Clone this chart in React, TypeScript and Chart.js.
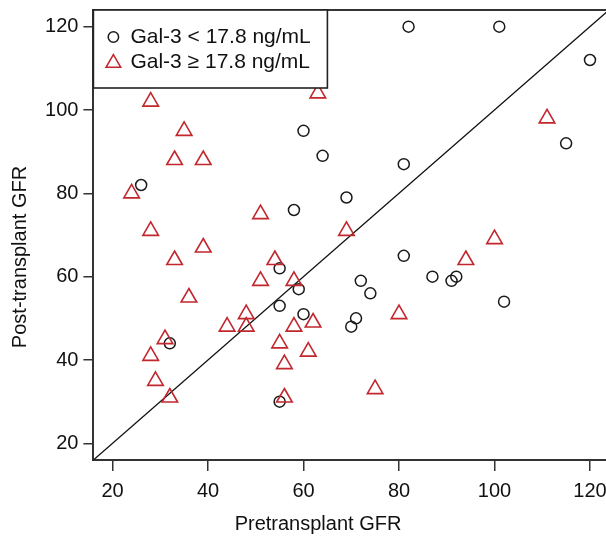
import React, { useEffect, useRef } from "react";
import { Chart, registerables } from "chart.js";

Chart.register(...registerables);

// ---- data ----
const xTicks = [20, 40, 60, 80, 100, 120];
const yTicks = [20, 40, 60, 80, 100, 120];
const xRange = [16, 123.35];
const yRange = [16, 124];

const lowPre = [26, 32, 55, 55, 55, 58, 59, 60, 60, 64, 69, 70, 71, 72, 74, 81, 81, 82, 87, 91, 92, 101, 102, 115, 120];
const lowPost = [82, 44, 30, 53, 62, 76, 57, 95, 51, 89, 79, 48, 50, 59, 56, 87, 65, 120, 60, 59, 60, 120, 54, 92, 112];

const highPre = [24, 28, 28, 28, 29, 31, 32, 33, 33, 35, 36, 39, 39, 44, 48, 48, 51, 51, 54, 55, 56, 56, 58, 58, 61, 62, 63, 69, 75, 80, 94, 100, 111];
const highPost = [80, 102, 71, 41, 35, 45, 31, 88, 64, 95, 55, 88, 67, 48, 51, 48, 75, 59, 64, 44, 39, 31, 59, 48, 42, 49, 104, 71, 33, 51, 64, 69, 98];

const legendLabels = ["Gal-3 < 17.8 ng/mL", "Gal-3 \u2265 17.8 ng/mL"];
const xTitle = "Pretransplant GFR";
const yTitle = "Post-transplant GFR";

const FONT = "'Liberation Sans', Arial, Helvetica, sans-serif";
const RED = "#c1272d";
const DARK = "#1a1a1a";

function drawTri(ctx: CanvasRenderingContext2D, x: number, y: number, r: number) {
  const s = Math.sin((2 * Math.PI) / 3) * r;
  ctx.beginPath();
  ctx.moveTo(x, y - r);
  ctx.lineTo(x + s, y + r / 2);
  ctx.lineTo(x - s, y + r / 2);
  ctx.closePath();
  ctx.stroke();
}

const decorPlugin = {
  id: "decor",
  afterDatasetsDraw(chart: any) {
    const { ctx, chartArea } = chart;
    const { left, top, right } = chartArea;
    ctx.save();
    // top border
    ctx.strokeStyle = "#333";
    ctx.lineWidth = 2;
    ctx.beginPath();
    ctx.moveTo(left, top);
    ctx.lineTo(right + 2, top);
    ctx.stroke();

    // legend box
    const w = 234, h = 78;
    ctx.fillStyle = "#fff";
    ctx.fillRect(left, top, w, h);
    ctx.strokeStyle = "#222";
    ctx.lineWidth = 1.6;
    ctx.strokeRect(left, top, w, h);

    // markers
    ctx.lineWidth = 1.5;
    ctx.strokeStyle = DARK;
    ctx.beginPath();
    ctx.arc(left + 20, top + 27, 5.2, 0, Math.PI * 2);
    ctx.stroke();
    ctx.strokeStyle = RED;
    drawTri(ctx, left + 20, top + 53, 8.5);

    ctx.fillStyle = "#111";
    ctx.font = `21px ${FONT}`;
    ctx.textAlign = "left";
    ctx.textBaseline = "middle";
    ctx.fillText(legendLabels[0], left + 37, top + 27);
    ctx.fillText(legendLabels[1], left + 37, top + 52);

    // axis titles
    ctx.font = `20px ${FONT}`;
    ctx.textAlign = "center";
    ctx.fillText(xTitle, 318, 524);
    ctx.translate(20, 257);
    ctx.rotate(-Math.PI / 2);
    ctx.fillText(yTitle, 0, 0);
    ctx.restore();
  },
};

export default function App() {
  const ref = useRef<HTMLCanvasElement | null>(null);

  useEffect(() => {
    if (!ref.current) return;
    const chart = new Chart(ref.current, {
      type: "scatter",
      data: {
        datasets: [
          {
            type: "line",
            label: "identity",
            data: [
              { x: yRange[0], y: yRange[0] },
              { x: yRange[1], y: yRange[1] },
            ],
            borderColor: "#111",
            borderWidth: 1.3,
            pointRadius: 0,
            fill: false,
            order: 3,
          } as any,
          {
            label: legendLabels[0],
            data: lowPre.map((x, i) => ({ x, y: lowPost[i] })),
            pointStyle: "circle",
            pointRadius: 5.5,
            borderColor: DARK,
            backgroundColor: "rgba(0,0,0,0)",
            borderWidth: 1.5,
            clip: false,
            order: 2,
          } as any,
          {
            label: legendLabels[1],
            data: highPre.map((x, i) => ({ x, y: highPost[i] })),
            pointStyle: "triangle",
            pointRadius: 9,
            borderColor: RED,
            backgroundColor: "rgba(0,0,0,0)",
            borderWidth: 1.6,
            clip: false,
            order: 1,
          } as any,
        ],
      },
      options: {
        animation: false,
        responsive: true,
        maintainAspectRatio: false,
        layout: { autoPadding: false, padding: { top: 10, right: 0, left: 0, bottom: 0 } },
        plugins: { legend: { display: false }, tooltip: { enabled: false } },
        scales: {
          x: {
            type: "linear",
            min: xRange[0],
            max: xRange[1],
            afterBuildTicks: (s: any) => {
              s.ticks = xTicks.map((v) => ({ value: v }));
            },
            afterFit: (s: any) => {
              s.height = 81;
              s.paddingLeft = 0;
              s.paddingRight = 0;
            },
            grid: {
              display: true,
              drawOnChartArea: false,
              drawTicks: true,
              tickLength: 11,
              color: "#333",
              lineWidth: 1.5,
            },
            border: { display: true, color: "#333", width: 2 },
            ticks: {
              color: "#111",
              font: { family: FONT, size: 20 },
              padding: 8,
              maxRotation: 0,
              autoSkip: false,
            },
          },
          y: {
            type: "linear",
            min: yRange[0],
            max: yRange[1],
            afterBuildTicks: (s: any) => {
              s.ticks = yTicks.map((v) => ({ value: v }));
            },
            afterFit: (s: any) => {
              s.width = 93.4;
              s.paddingTop = 0;
              s.paddingBottom = 0;
            },
            grid: {
              display: true,
              drawOnChartArea: false,
              drawTicks: true,
              tickLength: 10,
              color: "#333",
              lineWidth: 1.5,
            },
            border: { display: true, color: "#333", width: 2 },
            ticks: {
              color: "#111",
              font: { family: FONT, size: 20 },
              padding: 5,
              autoSkip: false,
            },
          },
        },
      },
      plugins: [decorPlugin],
    });
    return () => chart.destroy();
  }, []);

  return (
    <div style={{ position: "fixed", left: 0, top: 0, width: 606, height: 541, background: "#fff" }}>
      <canvas ref={ref} />
    </div>
  );
}
